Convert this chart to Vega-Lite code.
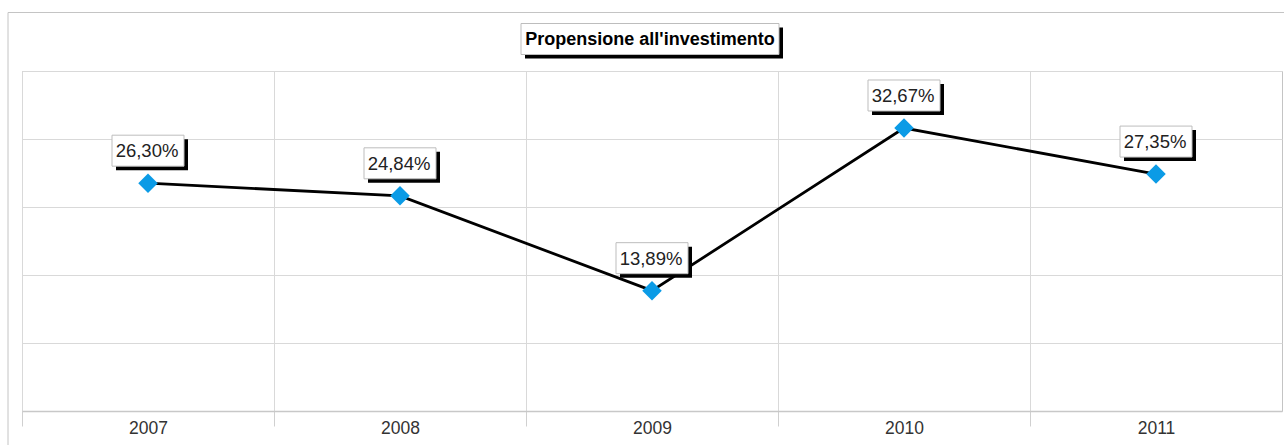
{
  "$schema": "https://vega.github.io/schema/vega-lite/v6.json",
  "width": 1260,
  "height": 340,
  "autosize": {"type": "none"},
  "padding": {"left": 22, "top": 71, "right": 2, "bottom": 34},
  "background": "white",
  "config": {
    "locale": {"number": {"decimal": ",", "thousands": ".", "grouping": [3], "currency": ["€", ""]}},
    "view": {"stroke": "#c4c4c4", "strokeWidth": 1},
    "font": "Liberation Sans"
  },
  "data": {"values": [
    {"year": 2007, "v": 0.2630},
    {"year": 2008, "v": 0.2484},
    {"year": 2009, "v": 0.1389},
    {"year": 2010, "v": 0.3267},
    {"year": 2011, "v": 0.2735}
  ]},
  "encoding": {
    "x": {"field": "year", "type": "quantitative", "scale": {"domain": [2006.5, 2011.5], "nice": false, "zero": false},
      "axis": {
        "values": [2006.5, 2007.5, 2008.5, 2009.5, 2010.5],
        "format": "d",
        "title": null,
        "grid": true, "gridColor": "#d9d9d9",
        "domainColor": "#c8c8c8", "domainWidth": 1.5,
        "tickSize": 15, "tickColor": "#d0d0d0",
        "labelOffset": 126, "labelFlush": false,
        "labelFontSize": 17.5, "labelColor": "#333333", "labelPadding": -7
      }
    },
    "y": {"field": "v", "type": "quantitative", "scale": {"domain": [0, 0.3925], "nice": false, "zero": false},
      "axis": {
        "values": [0, 0.0785, 0.157, 0.2355, 0.314, 0.3925],
        "title": null, "labels": false, "ticks": false, "domain": false,
        "grid": true, "gridColor": "#d9d9d9"
      }
    }
  },
  "layer": [
    {
      "mark": {"type": "line", "color": "black", "strokeWidth": 2.8}
    },
    {
      "mark": {"type": "point", "shape": "M-36,-15.5H36V15.5H-36Z", "size": 4, "filled": true, "fill": "black", "strokeWidth": 0, "opacity": 1, "xOffset": 4, "yOffset": -28.5}
    },
    {
      "mark": {"type": "point", "shape": "M-36,-15.5H36V15.5H-36Z", "size": 4, "filled": true, "fill": "white", "stroke": "#bdbdbd", "strokeWidth": 1, "opacity": 1, "yOffset": -32.5}
    },
    {
      "mark": {"type": "text", "fontSize": 18.5, "color": "#222222", "align": "center", "baseline": "middle", "yOffset": -32, "xOffset": -1},
      "encoding": {
        "text": {"field": "v", "type": "quantitative", "format": ".2%"}
      }
    },
    {
      "mark": {"type": "point", "shape": "diamond", "size": 380, "filled": true, "fill": "#0b9be6", "strokeWidth": 0, "opacity": 1}
    },
    {
      "data": {"values": [{"t": "Propensione all'investimento", "xa": 2009, "ya": 0.3925}]},
      "layer": [
        {
          "mark": {"type": "point", "shape": "M-644,-58.5H640V380H-644Z", "size": 4, "filled": false, "stroke": "#c4c4c4", "strokeWidth": 1, "opacity": 1}
        },
        {
          "mark": {"type": "point", "shape": "M-129,-15.5H129V15.5H-129Z", "size": 4, "filled": true, "fill": "black", "strokeWidth": 0, "opacity": 1, "xOffset": 2, "yOffset": -28}
        },
        {
          "mark": {"type": "point", "shape": "M-129,-15.5H129V15.5H-129Z", "size": 4, "filled": true, "fill": "white", "stroke": "#bdbdbd", "strokeWidth": 1, "opacity": 1, "xOffset": -2, "yOffset": -32}
        },
        {
          "mark": {"type": "text", "fontSize": 18, "fontWeight": "bold", "color": "black", "align": "center", "baseline": "middle", "xOffset": -2, "yOffset": -31},
          "encoding": {"text": {"field": "t", "type": "nominal"}}
        }
      ],
      "encoding": {
        "x": {"field": "xa", "type": "quantitative"},
        "y": {"field": "ya", "type": "quantitative"}
      }
    }
  ]
}
